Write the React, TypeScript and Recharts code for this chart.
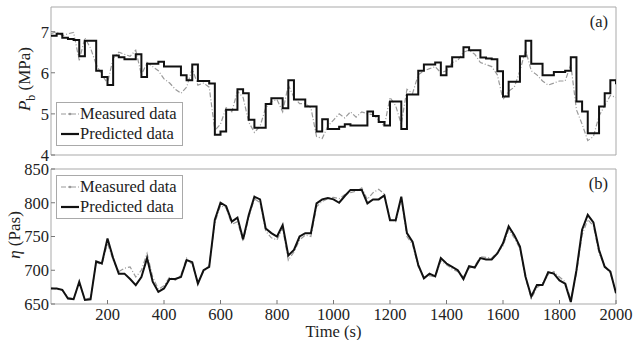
import { LineChart, Line, XAxis, YAxis, ReferenceArea, Legend } from 'recharts'

const time = [
  0, 20, 40, 60, 80, 100, 120, 140, 160, 180, 200, 220, 240, 260, 280, 300, 320, 340, 360, 380,
  400, 420, 440, 460, 480, 500, 520, 540, 560, 580, 600, 620, 640, 660, 680, 700, 720, 740, 760, 780,
  800, 820, 840, 860, 880, 900, 920, 940, 960, 980, 1000, 1020, 1040, 1060, 1080, 1100, 1120, 1140, 1160, 1180,
  1200, 1220, 1240, 1260, 1280, 1300, 1320, 1340, 1360, 1380, 1400, 1420, 1440, 1460, 1480, 1500, 1520, 1540, 1560, 1580,
  1600, 1620, 1640, 1660, 1680, 1700, 1720, 1740, 1760, 1780, 1800, 1820, 1840, 1860, 1880, 1900, 1920, 1940, 1960, 1980,
  2000,
]

const pbMeasured = [
  6.95, 7.0, 6.9, 6.95, 6.98, 6.3, 6.85, 6.6, 6.2, 5.95, 5.75, 6.35, 6.5, 6.45, 6.4, 6.55, 5.95, 6.25, 6.15, 6.05,
  5.85, 5.75, 5.6, 5.5, 5.65, 6.1, 5.7, 5.75, 5.65, 4.6, 4.75, 5.15, 5.05, 5.55, 5.4, 4.8, 4.55, 4.7, 5.15, 5.3,
  5.35, 5.05, 5.7, 5.4, 5.25, 5.25, 5.15, 4.45, 4.4, 4.7, 4.85, 5.0, 4.9, 5.05, 4.92, 5.05, 5.0, 4.98, 4.85, 4.7,
  5.4, 5.2, 4.75, 5.6, 5.5, 5.95, 6.05, 6.1, 6.15, 6.0, 6.05, 6.25, 6.3, 6.5, 6.55, 6.45, 6.25, 6.2, 6.15, 5.95,
  5.35, 5.55, 5.65, 6.05, 6.55, 6.05, 5.95, 5.8, 5.7, 5.75, 5.8, 5.8, 6.2, 5.1, 4.75, 4.35, 4.45, 4.95, 5.2, 5.45,
  5.4,
]

const pbPredicted = [
  6.9, 6.95, 6.85, 6.82, 6.8, 6.4, 6.78, 6.78, 6.05, 5.9, 5.7, 6.42, 6.38, 6.33, 6.33, 6.45, 5.9, 6.22, 6.22, 6.27,
  6.15, 6.15, 6.15, 5.94, 5.82, 6.2, 5.8, 5.8, 5.74, 4.49, 4.57, 5.1, 5.1, 5.6, 5.5, 4.86, 4.66, 4.66, 5.24, 5.38,
  5.38, 5.14, 5.82, 5.35, 5.35, 5.18, 5.18, 4.57, 4.87, 4.63, 4.63, 4.69, 4.75, 4.72, 4.72, 4.72, 5.06, 4.95, 4.8, 4.72,
  5.3, 5.3, 4.63, 5.47, 5.47, 6.05, 6.2, 6.2, 6.25, 5.94, 6.15, 6.38, 6.38, 6.62, 6.55, 6.55, 6.37, 6.35, 6.33, 6.04,
  5.42, 5.78, 5.78, 6.4, 6.78, 6.22, 6.22, 5.94, 5.94, 6.02, 6.02, 6.05, 6.38, 5.3, 5.06, 4.53, 4.53, 5.18, 5.5, 5.82,
  5.72,
]

const etaMeasured = [
  674, 672, 670, 660, 658, 680, 657, 659, 712, 708, 740, 715, 698, 703, 705, 690, 700, 725, 690, 672,
  677, 690, 685, 693, 718, 708, 683, 698, 707, 770, 796, 792, 768, 772, 743, 778, 806, 800, 758, 748,
  745, 762, 715, 727, 745, 752, 750, 794, 802, 806, 808, 806, 812, 815, 817, 822, 805, 815, 820, 813,
  776, 772, 805, 750, 738, 705, 690, 692, 690, 714, 708, 702, 698, 690, 703, 706, 720, 719, 718, 727,
  736, 760, 748, 732, 688, 658, 674, 681, 693, 698, 690, 683, 657, 695, 752, 775, 766, 725, 707, 695,
  668,
]

const etaPredicted = [
  673, 673, 671, 658, 657, 683, 656, 657, 713, 710, 747, 718, 695, 695, 687, 678, 690, 718, 683, 668,
  673, 687, 687, 690, 715, 712, 680, 700, 705, 775, 800, 795, 772, 778, 746, 782, 809, 805, 762, 755,
  750, 767, 722, 730, 750, 755, 755, 799, 805, 807, 805, 800, 810, 819, 819, 819, 799, 805, 805, 811,
  774, 774, 809, 755, 742, 708, 688, 695, 691, 718, 710, 705, 700, 687, 706, 704, 718, 716, 716, 725,
  740, 765, 752, 735, 690, 661, 678, 678, 697, 695, 685, 680, 653, 700, 760, 782, 771, 730, 705, 698,
  666,
]

const timeTicks = [200, 400, 600, 800, 1000, 1200, 1400, 1600, 1800, 2000]
const pbTicks = [4, 5, 6, 7]
const etaTicks = [650, 700, 750, 800, 850]

const pbData = time.map((t, i) => ({ t, measured: pbMeasured[i], predicted: pbPredicted[i] }))
const etaData = time.map((t, i) => ({ t, measured: etaMeasured[i], predicted: etaPredicted[i] }))

const FONT = '"Liberation Serif", "Times New Roman", serif'
const tickStyle = { fontSize: 16.5, fill: '#222', fontFamily: FONT }
const FRAME = '#a9a9a9'
const MEASURED = '#9a9a9a'

const LegendContent = ({ payload }: any) => (
  <div style={{ width: 127, height: 44, border: `1px solid ${FRAME}`, background: '#fff', boxSizing: 'border-box', fontFamily: FONT, fontSize: 16.5, color: '#222', paddingTop: 1 }}>
    {(payload ?? []).map((p: any) => (
      <div key={p.value} style={{ display: 'flex', alignItems: 'center', height: 20 }}>
        <svg width={23} height={10} style={{ flex: 'none' }}>
          {p.dataKey === 'measured' ? (
            <>
              <line x1={4} y1={5} x2={22} y2={5} stroke={MEASURED} strokeWidth={1.2} strokeDasharray="5 2 1 2" />
              <circle cx={13} cy={5} r={1.3} fill={MEASURED} />
            </>
          ) : (
            <line x1={4} y1={5} x2={22} y2={5} stroke="#111" strokeWidth={2.2} />
          )}
        </svg>
        <span style={{ whiteSpace: 'nowrap' }}>{p.value}</span>
      </div>
    ))}
  </div>
)

// axis titles, placed in each chart's own svg coordinates
const PbLabel = () => (
  <text transform="translate(30,79) rotate(-90)" textAnchor="middle" fontSize={17} fill="#222" fontFamily={FONT}>
    <tspan fontStyle="italic">P</tspan>
    <tspan fontSize={12} dy={5}>b</tspan>
    <tspan dy={-5}> (MPa)</tspan>
  </text>
)

const EtaLabel = () => (
  <text transform="translate(20,75) rotate(-90)" textAnchor="middle" fontSize={17} fill="#222" fontFamily={FONT}>
    <tspan fontStyle="italic">η</tspan>
    <tspan> (Pas)</tspan>
  </text>
)

export default function App() {
  return (
    <div style={{ position: 'absolute', left: 0, top: 0, width: 634, height: 340, background: '#fff', fontFamily: FONT }}>
      <div style={{ position: 'absolute', left: 0, top: 160 }}>
        <LineChart width={634} height={180} data={etaData} margin={{ top: 9, right: 18, bottom: 0, left: 0 }}>
          <XAxis dataKey="t" type="number" domain={[0, 2000]} allowDataOverflow ticks={timeTicks} interval={0} height={36} tick={tickStyle} tickSize={-4} tickMargin={8} axisLine={false} tickLine={{ stroke: '#777' }}
            label={{ value: 'Time (s)', position: 'insideBottom', offset: 3, fontSize: 16.5, fill: '#222', fontFamily: FONT }} />
          <XAxis xAxisId="top" orientation="top" dataKey="t" type="number" domain={[0, 2000]} allowDataOverflow ticks={timeTicks} interval={0} tick={false} tickSize={-4} height={0} axisLine={false} tickLine={{ stroke: '#777' }} />
          <YAxis type="number" domain={[650, 850]} allowDataOverflow ticks={etaTicks} interval={0} width={51} tick={tickStyle} tickSize={-4} tickMargin={6} axisLine={false} tickLine={{ stroke: '#777' }} label={{ content: <EtaLabel /> }} />
          <YAxis yAxisId="r" orientation="right" type="number" domain={[650, 850]} allowDataOverflow ticks={etaTicks} interval={0} width={0} tick={false} tickSize={-4} axisLine={false} tickLine={{ stroke: '#777' }} />
          <ReferenceArea x1={0} x2={2000} y1={650} y2={850} fill="none" stroke={FRAME} strokeWidth={1}
            label={{ value: '(b)', position: 'insideTopRight', offset: 8, fontSize: 16.5, fill: '#222', fontFamily: FONT }} />
          <Line dataKey="measured" name="Measured data" type="linear" stroke={MEASURED} strokeWidth={1.2} strokeDasharray="5 2 1 2" dot={false} isAnimationActive={false} />
          <Line dataKey="predicted" name="Predicted data" type="linear" stroke="#111" strokeWidth={2} dot={false} isAnimationActive={false} />
          <Legend layout="vertical" align="center" verticalAlign="middle" content={<LegendContent />} wrapperStyle={{ left: 56, top: 15, width: 127, height: 44 }} />
        </LineChart>
      </div>
      <div style={{ position: 'absolute', left: 0, top: 0 }}>
        <LineChart width={634} height={166} data={pbData} margin={{ top: 7, right: 18, bottom: 11, left: 0 }}>
          <XAxis dataKey="t" type="number" domain={[0, 2000]} allowDataOverflow ticks={timeTicks} interval={0} tick={false} tickSize={-4} height={0} axisLine={false} tickLine={{ stroke: '#777' }} />
          <XAxis xAxisId="top" orientation="top" dataKey="t" type="number" domain={[0, 2000]} allowDataOverflow ticks={timeTicks} interval={0} tick={false} tickSize={-4} height={0} axisLine={false} tickLine={{ stroke: '#777' }} />
          <YAxis type="number" domain={[4, 7.6]} allowDataOverflow ticks={pbTicks} interval={0} width={51} tick={tickStyle} tickSize={-4} tickMargin={6} axisLine={false} tickLine={{ stroke: '#777' }} label={{ content: <PbLabel /> }} />
          <YAxis yAxisId="r" orientation="right" type="number" domain={[4, 7.6]} allowDataOverflow ticks={pbTicks} interval={0} width={0} tick={false} tickSize={-4} axisLine={false} tickLine={{ stroke: '#777' }} />
          <ReferenceArea x1={0} x2={2000} y1={4} y2={7.6} fill="none" stroke={FRAME} strokeWidth={1}
            label={{ value: '(a)', position: 'insideTopRight', offset: 8, fontSize: 16.5, fill: '#222', fontFamily: FONT }} />
          <Line dataKey="measured" name="Measured data" type="linear" stroke={MEASURED} strokeWidth={1.2} strokeDasharray="5 2 1 2" dot={false} isAnimationActive={false} />
          <Line dataKey="predicted" name="Predicted data" type="stepAfter" stroke="#111" strokeWidth={2} dot={false} isAnimationActive={false} />
          <Legend layout="vertical" align="center" verticalAlign="middle" content={<LegendContent />} wrapperStyle={{ left: 56, top: 102, width: 127, height: 44 }} />
        </LineChart>
      </div>
    </div>
  )
}
